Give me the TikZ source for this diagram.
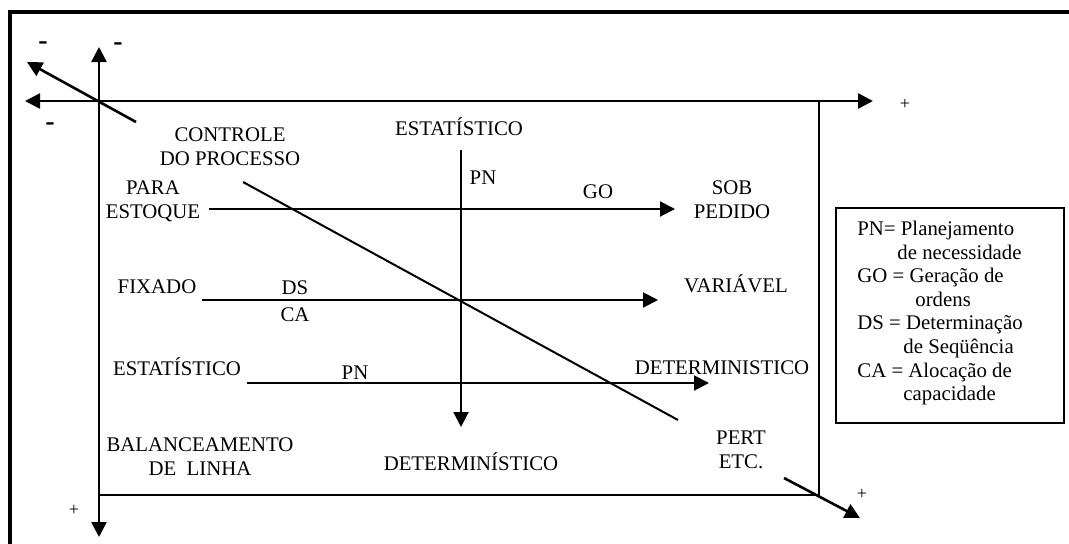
\documentclass[tikz,border=0pt]{standalone}
\usepackage{fontspec}
\setmainfont{Liberation Serif}
\usetikzlibrary{arrows.meta}
\tikzset{
  >={Triangle[length=7.5pt,width=7.5pt]},
  ax/.style={line width=1.3pt},
  ar/.style={line width=1pt,->},
  fr/.style={line width=0.9pt},
  lb/.style={font=\fontsize{10.4}{12}\selectfont,inner sep=0pt,align=center},
  lg/.style={font=\fontsize{10.4}{11.8}\selectfont,inner sep=0pt,align=left},
  mn/.style={font=\fontsize{14}{16}\selectfont\bfseries,inner sep=0pt},
  ps/.style={font=\fontsize{9}{10}\selectfont,inner sep=0pt}
}
\newcommand{\ind}[1]{\hspace*{#1}}

\begin{document}
\begin{tikzpicture}[x=0.5pt,y=-0.5pt]
\useasboundingbox (0,0) rectangle (1069,543);
\draw[line width=2pt] (1090,12) -- (10,12) -- (10,560);
% axes
\coordinate (O) at (99,101); \coordinate (xl) at (25,101); \coordinate (xr) at (873,101);
\coordinate (yt) at (99,47); \coordinate (yb) at (99,537);
\coordinate (dt) at (27,62); \coordinate (ds) at (136,122);
\coordinate (de) at (784,478); \coordinate (dp) at (860,518);
\draw[ax,<->] (xl) -- (xr); \draw[ax,<->] (yt) -- (yb);
\draw[ax,->] (ds) -- (dt); \draw[ax,->] (de) -- (dp);
\draw[fr] (99,495) -- (819,495) -- (819,101);
\node[mn] (m1) at (43,46) {-}; \node[mn] (m2) at (118,47) {-}; \node[mn] (m3) at (50,127) {-};
\node[ps] (p1) at (905,104) {+}; \node[ps] (p2) at (74,510) {+}; \node[ps] (p3) at (862,494) {+};
% inner cross
\coordinate (C) at (461,300);
\coordinate (vt) at (461,150); \coordinate (vb) at (461,427);
\coordinate (r1a) at (209,209); \coordinate (r1b) at (675,209);
\coordinate (r2a) at (202,300); \coordinate (r2b) at (658,300);
\coordinate (r3a) at (247,383); \coordinate (r3b) at (709,383);
\coordinate (ga) at (243,182); \coordinate (gb) at (678,420);
\draw[ar] (vt) -- (vb);
\draw[ar] (r1a) -- (r1b); \draw[ar] (r2a) -- (r2b); \draw[ar] (r3a) -- (r3b);
\draw[line width=1pt] (ga) -- (gb);
% labels
\node[lb] (cp) at (230,147) {CONTROLE\\DO PROCESSO};
\node[lb] (et) at (459,127) {ESTAT\'ISTICO};
\node[lb] (pn1) at (483,178) {PN}; \node[lb] (go) at (598,192) {GO};
\node[lb] (sp) at (732,200) {SOB\\PEDIDO};
\node[lb] (pe) at (153,201) {PARA\\ESTOQUE};
\node[lb] (fx) at (157,287) {FIXADO};
\node[lb] (dsl) at (295,288) {DS}; \node[lb] (ca) at (295,315) {CA};
\node[lb] (va) at (736,284) {VARI\'AVEL};
\node[lb] (es) at (177,367) {ESTAT\'ISTICO};
\node[lb] (pn2) at (355,373) {PN};
\node[lb] (dt2) at (722,368) {DETERMINISTICO};
\node[lb] (pt) at (741,450) {PERT\\ETC.};
\node[lb] (db) at (471,462) {DETERMIN\'ISTICO};
\node[lb] (bl) at (200,457) {BALANCEAMENTO\\DE~~LINHA};
% legend
\node[draw,line width=1pt,minimum width=114pt,minimum height=107.5pt,anchor=north west,inner sep=0pt] (leg) at (835,207) {};
\node[lg,anchor=west] (lgt) at (857,313) {PN= Planejamento\\\ind{20pt}de necessidade\\GO = Gera\c{c}\~ao de\\\ind{29pt}ordens\\DS = Determina\c{c}\~ao\\\ind{23pt}de Seq\"u\^encia\\CA = Aloca\c{c}\~ao de\\\ind{23pt}capacidade};
\end{tikzpicture}
\end{document}
